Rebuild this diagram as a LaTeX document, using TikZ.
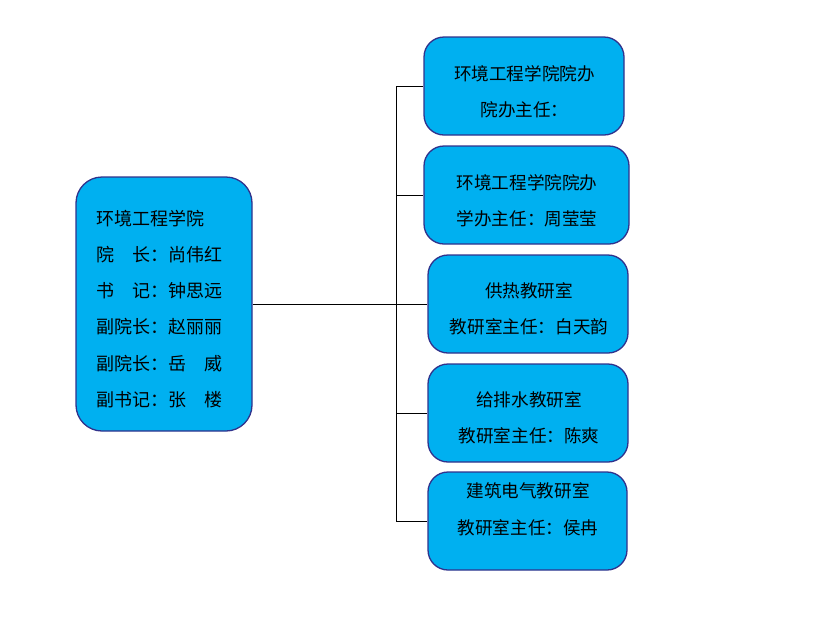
\documentclass[tikz,border=0pt]{standalone}
\usepackage{fontspec}
\newfontfamily\cjk{Noto Sans CJK SC}
\definecolor{boxfill}{RGB}{0,176,240}
\definecolor{boxline}{RGB}{48,50,140}
\begin{document}
\begin{tikzpicture}[x=1pt,y=-1pt,
  box/.style={draw=boxline,line width=1.3pt,fill=boxfill,rounded corners=20pt,inner sep=0pt},
  txt/.style={font=\cjk\fontsize{17.6}{36.5}\selectfont,inner sep=0pt,align=center},
  link/.style={draw=black,line width=0.9pt}]
\useasboundingbox (0,0) rectangle (827,619);
% left box
\node[box,rounded corners=26pt,minimum width=176pt,minimum height=254pt] (L) at (164,304) {};
\node[font=\cjk\fontsize{18}{36.2}\selectfont,inner sep=0pt,align=left,anchor=west] (Lt) at (96,309)
 {环境工程学院\\院　长：尚伟红\\书　记：钟思远\\副院长：赵丽丽\\副院长：岳　威\\副书记：张　楼};
% right boxes
\node[box,minimum width=200pt,minimum height=98pt] (b1) at (524,86) {};
\node[txt] (t1) at (524.5,92) {环境工程学院院办\\院办主任：};
\node[box,minimum width=205pt,minimum height=98pt] (b2) at (526.5,195) {};
\node[txt] (t2) at (527,201) {环境工程学院院办\\学办主任：周莹莹};
\node[box,minimum width=200pt,minimum height=98pt] (b3) at (528,304) {};
\node[txt] (t3) at (529,309) {供热教研室\\教研室主任：白天韵};
\node[box,minimum width=200pt,minimum height=98pt] (b4) at (528,413) {};
\node[txt] (t4) at (529,418) {给排水教研室\\教研室主任：陈爽};
\node[box,minimum width=199pt,minimum height=98pt] (b5) at (527.5,521) {};
\node[txt] (t5) at (528,509) {建筑电气教研室\\教研室主任：侯冉};
% connectors
\coordinate (j) at (396,304);
\draw[link] (L.east) -- (b3.west);
\draw[link] (b1.west) -| (j) |- (b5.west);
\draw[link] (j) |- (b2.west);
\draw[link] (j) |- (b4.west);
\end{tikzpicture}
\end{document}
